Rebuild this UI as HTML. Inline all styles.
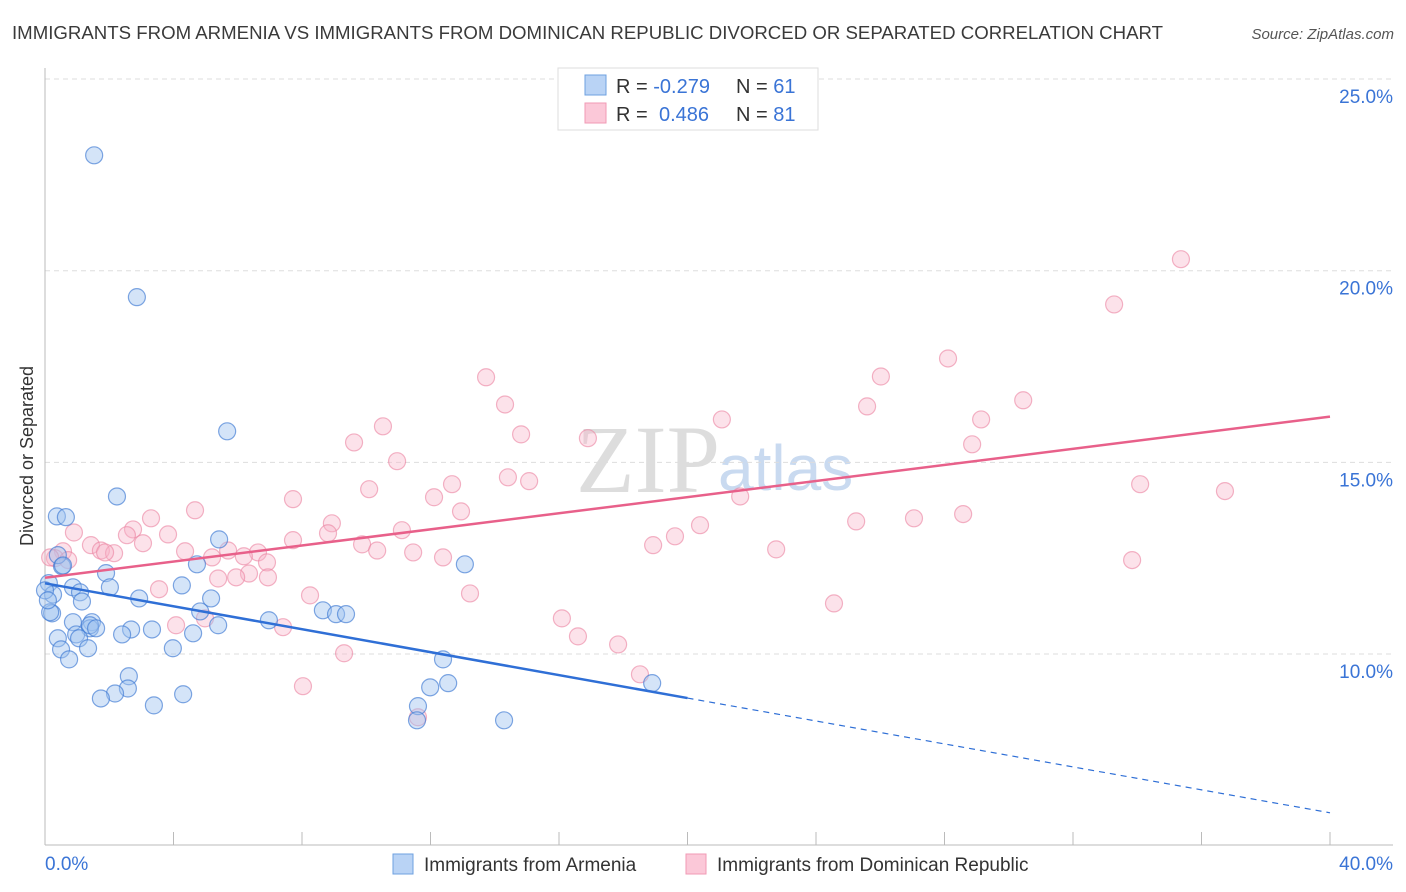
<!DOCTYPE html>
<html><head><meta charset="utf-8"><style>
body{margin:0;background:#fff;font-family:"Liberation Sans",sans-serif}
svg{display:block}
</style></head><body>
<svg id="chart" width="1406" height="892" xmlns="http://www.w3.org/2000/svg">
<text x="12" y="39" font-size="18" fill="#3a3a3a" textLength="1151" lengthAdjust="spacingAndGlyphs">IMMIGRANTS FROM ARMENIA VS IMMIGRANTS FROM DOMINICAN REPUBLIC DIVORCED OR SEPARATED CORRELATION CHART</text>
<text x="1394" y="39" font-size="15" font-style="italic" fill="#555" text-anchor="end">Source: ZipAtlas.com</text>
<text transform="translate(33,456) rotate(-90)" font-size="18" fill="#333" text-anchor="middle">Divorced or Separated</text>
<text x="720" y="492" font-size="96" font-family="Liberation Serif,serif" fill="#ddd" text-anchor="end">ZIP</text>
<text x="718" y="490" font-size="64" fill="#c9daf0">atlas</text>
<g id="grid"></g><g id="axes"></g><g id="pink"></g><g id="blue"></g><g id="trends"></g>
<g>
<rect x="558" y="68" width="260" height="62" fill="#fff" stroke="#ddd"/>
<rect x="585" y="75" width="21" height="20" fill="#b9d3f5" stroke="#6ea0e0"/>
<rect x="585" y="103" width="21" height="20" fill="#fbc8d8" stroke="#f09ab5"/>
<text x="616" y="93" font-size="20" fill="#333">R = <tspan fill="#3a74d6">-0.279</tspan><tspan x="736">N = </tspan><tspan fill="#3a74d6">61</tspan></text>
<text x="616" y="121" font-size="20" fill="#333">R = <tspan x="659" fill="#3a74d6">0.486</tspan><tspan x="736">N = </tspan><tspan fill="#3a74d6">81</tspan></text>
</g>
<g>
<rect x="393" y="854" width="20" height="20" fill="#b9d3f5" stroke="#6ea0e0"/>
<text x="424" y="871" font-size="19" fill="#333">Immigrants from Armenia</text>
<rect x="686" y="854" width="20" height="20" fill="#fbc8d8" stroke="#f09ab5"/>
<text x="717" y="871" font-size="19" fill="#333">Immigrants from Dominican Republic</text>
</g>
</svg>
<script>
const blueX=[1.53,2.86,5.67,2.24,0.37,0.65,5.42,13.07,0.53,0.12,1.90,0.87,0.25,1.09,2.02,1.15,2.93,4.26,4.73,5.17,4.83,0.22,6.97,8.65,9.06,9.37,0.87,1.46,1.40,0.97,1.06,2.68,2.40,3.33,4.61,5.39,0.40,0.50,1.34,0.75,3.98,12.39,2.61,12.55,11.99,2.58,2.18,1.74,4.30,3.39,11.61,11.58,14.29,18.90,1.40,0.40,0.16,1.59,0.0,0.09,0.56];
const blueY=[23.01,19.31,15.81,14.11,13.59,13.57,12.99,12.34,12.29,11.85,12.11,11.74,11.55,11.61,11.74,11.37,11.45,11.79,12.34,11.45,11.11,11.06,10.88,11.14,11.04,11.04,10.83,10.83,10.67,10.51,10.41,10.64,10.51,10.64,10.54,10.75,10.41,10.12,10.15,9.86,10.15,9.86,9.42,9.24,9.13,9.10,8.97,8.84,8.95,8.66,8.64,8.27,8.27,9.24,10.75,12.58,11.09,10.67,11.66,11.40,12.31];
const pinkX=[35.36,33.28,28.11,26.02,13.73,25.59,14.32,30.45,21.07,29.14,10.52,14.82,9.62,16.90,28.86,10.96,14.41,15.07,12.67,10.09,34.09,36.73,21.64,7.72,12.11,12.95,4.67,3.30,27.05,28.58,25.25,8.93,2.74,11.11,0.90,3.83,20.39,19.61,7.72,8.81,1.43,2.55,3.05,18.93,22.76,0.56,1.74,2.15,4.36,5.70,6.63,9.87,10.34,11.46,12.39,5.20,6.19,6.91,0.31,0.72,33.84,6.35,5.95,5.39,6.94,3.55,8.25,13.23,24.56,16.09,4.08,7.41,16.59,17.84,9.31,18.52,8.03,11.61,1.87,0.16,4.98];
const pinkY=[20.30,19.12,17.71,17.24,17.22,16.46,16.51,16.62,16.12,16.12,15.94,15.73,15.52,15.63,15.47,15.03,14.61,14.51,14.43,14.30,14.43,14.25,14.11,14.04,14.09,13.72,13.75,13.54,13.54,13.65,13.46,13.41,13.25,13.23,13.17,13.12,13.36,13.07,12.97,13.15,12.84,13.10,12.89,12.84,12.73,12.68,12.70,12.63,12.68,12.70,12.65,12.86,12.70,12.65,12.52,12.52,12.55,12.39,12.50,12.45,12.45,12.10,12.00,11.97,12.00,11.69,11.53,11.58,11.32,10.93,10.75,10.70,10.46,10.25,10.02,9.47,9.16,8.35,12.65,12.52,10.93];
const yTicks=[10,15,20,25];
const xTickLabels=["0.0%","40.0%"];
const NS="http://www.w3.org/2000/svg";
const X0=45,X1=1330,xs=v=>X0+(X1-X0)*v/40;
const ys=v=>1037.3-v*38.33;
function mk(tag,attrs,parent,text){const e=document.createElementNS(NS,tag);for(const k in attrs)e.setAttribute(k,attrs[k]);if(text!=null)e.textContent=text;parent.appendChild(e);return e;}
const grid=document.getElementById('grid'),axes=document.getElementById('axes');
yTicks.forEach(t=>{
 const l=mk('line',{x1:X0,x2:1393,y1:ys(t),y2:ys(t),stroke:'#ddd','stroke-dasharray':'5,4'},grid);
 
 
 const tx=mk('text',{x:1393,y:ys(t)+24,'font-size':19,fill:'#3a74d6','text-anchor':'end'},grid,t.toFixed(1)+'%');
 
 
});
mk('line',{x1:X0,x2:X0,y1:68,y2:845,stroke:'#bbb'},axes);
mk('line',{x1:X0,x2:1393,y1:845,y2:845,stroke:'#bbb'},axes);
for(let i=0;i<=10;i++){const l=mk('line',{x1:xs(i*4),x2:xs(i*4),y1:832,y2:845,stroke:'#bbb'},axes);
 
 }
const xl0=mk('text',{x:45,y:870,'font-size':19,fill:'#3a74d6'},axes,xTickLabels[0]);


const xl1=mk('text',{x:1393,y:870,'font-size':19,fill:'#3a74d6','text-anchor':'end'},axes,xTickLabels[1]);


function dots(X,Y,g,fill,stroke,name){const p=document.getElementById(g);X.forEach((x,i)=>{
 const c=mk('circle',{cx:xs(x),cy:ys(Y[i]),r:8.5,fill:fill,stroke:stroke,'stroke-width':1.2},p);
 
 });}
dots(pinkX,pinkY,'pink','rgba(248,180,200,0.38)','rgba(235,130,160,0.6)','dominican-point');
dots(blueX,blueY,'blue','rgba(160,196,240,0.45)','rgba(60,120,210,0.65)','armenia-point');
function fit(X,Y){const n=X.length;let mx=0,my=0;X.forEach((x,i)=>{mx+=x;my+=Y[i]});mx/=n;my/=n;let sxy=0,sxx=0;X.forEach((x,i)=>{sxy+=(x-mx)*(Y[i]-my);sxx+=(x-mx)**2});const b=sxy/sxx;return [my-b*mx,b];}
const tr=document.getElementById('trends');
const [pa,pb]=fit(pinkX,pinkY);
const pl=mk('line',{x1:xs(0),y1:ys(pa),x2:xs(40),y2:ys(pa+pb*40),stroke:'#e8608a','stroke-width':2.5},tr);


const [ba,bb]=fit(blueX,blueY);const bmax=Math.ceil(Math.max(...blueX)/4)*4;
const bl=mk('line',{x1:xs(0),y1:ys(ba),x2:xs(bmax),y2:ys(ba+bb*bmax),stroke:'#2f6fd6','stroke-width':2.5},tr);


const bd=mk('line',{x1:xs(bmax),y1:ys(ba+bb*bmax),x2:xs(40),y2:ys(ba+bb*40),stroke:'#2f6fd6','stroke-width':1.2,'stroke-dasharray':'6,5'},tr);


</script>
</body></html>
